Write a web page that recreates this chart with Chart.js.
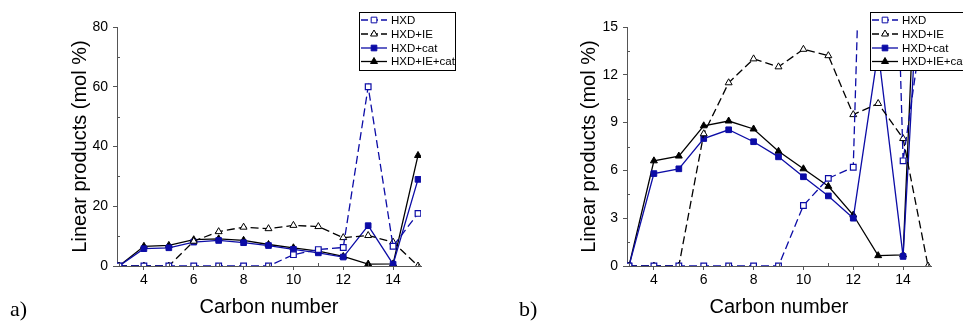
<!DOCTYPE html>
<html><head><meta charset="utf-8">
<script src="https://cdn.jsdelivr.net/npm/chart.js@4.4.1/dist/chart.umd.min.js"></script>
<style>
html,body{margin:0;padding:0;background:#fff;width:963px;height:326px;overflow:hidden;}
#wa{position:absolute;left:0;top:0;width:481px;height:326px;}
#wb{position:absolute;left:480px;top:0;width:483px;height:326px;}
.lab{position:absolute;font-family:"Liberation Serif","Times New Roman",serif;font-size:22px;color:#000;line-height:22px;}
</style></head><body>
<div id="wa"><canvas id="ca" width="481" height="326"></canvas></div>
<div id="wb"><canvas id="cb" width="483" height="326"></canvas></div>
<div class="lab" style="left:10px;top:298px">a)</div>
<div class="lab" style="left:519px;top:298px">b)</div>
<script>
const carbonNumbers = [3,4,5,6,7,8,9,10,11,12,13,14,15];
const hxd      = [0,0,0,0,0,0,0,3.8,5.5,6.2,60,6.6,17.6];
const hxdIE    = [0,0,0,8.3,11.5,13.0,12.5,13.6,13.2,9.5,10.2,8.0,0];
const hxdCat   = [0,5.8,6.1,8.0,8.55,7.8,6.85,5.6,4.4,3.0,13.5,0.6,29];
const hxdIECat = [0,6.6,6.9,8.8,9.1,8.6,7.2,6.1,5.0,3.2,0.65,0.7,37];
const seriesNames = ['HXD','HXD+IE','HXD+cat','HXD+IE+cat'];
const xTickLabels = [4,6,8,10,12,14];
const xMinorTicks = [3,5,7,9,11,13,15];
const yTicksA = [0,20,40,60,80];
const yMinorA = [10,30,50,70];
const yTicksB = [0,3,6,9,12,15];
const yMinorB = [1.5,4.5,7.5,10.5,13.5];

const FONT = '"Liberation Sans", Arial, sans-serif';
const BLUE = '#0c0ca6';
const AXIS = '#555';

function pts(vals){ return carbonNumbers.map((c,i)=>({x:c,y:vals[i]})); }

function makeDatasets(){
  return [
    {label:seriesNames[0], data:pts(hxd), borderColor:BLUE, backgroundColor:'#fff', borderDash:[8,4], pointStyle:'rect', pointRadius:4, pointBorderWidth:1.2},
    {label:seriesNames[1], data:pts(hxdIE), borderColor:'#000', backgroundColor:'#fff', borderDash:[8,4], pointStyle:'triangle', pointRadius:4, pointBorderWidth:1},
    {label:seriesNames[2], data:pts(hxdCat), borderColor:BLUE, backgroundColor:BLUE, borderDash:[], pointStyle:'rect', pointRadius:4, pointBorderWidth:1},
    {label:seriesNames[3], data:pts(hxdIECat), borderColor:'#000', backgroundColor:'#000', borderDash:[], pointStyle:'triangle', pointRadius:4, pointBorderWidth:1}
  ].map(d=>Object.assign(d,{borderWidth:1.3, tension:0, fill:false}));
}

function drawMarker(ctx, style, x, y, r, fill, stroke){
  ctx.save();
  ctx.setLineDash([]);
  ctx.lineWidth = 1;
  ctx.strokeStyle = stroke; ctx.fillStyle = fill;
  ctx.beginPath();
  if(style==='rect'){
    const s = Math.SQRT1_2*r;
    ctx.rect(x-s,y-s,2*s,2*s);
  } else {
    const a = r*Math.cos(Math.PI/6);
    ctx.moveTo(x, y - r);
    ctx.lineTo(x + a, y + r/2);
    ctx.lineTo(x - a, y + r/2);
    ctx.closePath();
  }
  ctx.fill(); ctx.stroke();
  ctx.restore();
}

function extrasPlugin(cfg){
  return {
    id:'extras',
    afterDraw(chart){
      const ctx = chart.ctx, ca = chart.chartArea;
      const xs = chart.scales.x, ys = chart.scales.y;
      // minor ticks (inward)
      ctx.save();
      ctx.strokeStyle = AXIS; ctx.lineWidth = 1;
      ctx.beginPath();
      cfg.yMinor.forEach(v=>{ const py = Math.round(ys.getPixelForValue(v))+0.5; ctx.moveTo(ca.left, py); ctx.lineTo(ca.left+3, py); });
      xMinorTicks.forEach(v=>{ const px = Math.round(xs.getPixelForValue(v))+0.5; ctx.moveTo(px, ca.bottom); ctx.lineTo(px, ca.bottom-3); });
      ctx.stroke();
      ctx.restore();
      // legend box
      const lx = cfg.legendX, top = 12, w = cfg.legendW, h = 58;
      ctx.save();
      ctx.fillStyle = '#fff';
      ctx.fillRect(lx, top, w, h);
      ctx.strokeStyle = '#000'; ctx.lineWidth = 1;
      ctx.strokeRect(lx+0.5, top+0.5, w, h);
      const rows = [20, 34, 48, 61.5];
      chart.data.datasets.forEach((ds,i)=>{
        const y = rows[i];
        ctx.save();
        ctx.strokeStyle = ds.borderColor; ctx.lineWidth = 1.3;
        ctx.setLineDash(ds.borderDash && ds.borderDash.length ? [7,3] : []);
        ctx.beginPath(); ctx.moveTo(lx+2, y); ctx.lineTo(lx+28, y); ctx.stroke();
        ctx.restore();
        drawMarker(ctx, ds.pointStyle, lx+15, y, 4, ds.backgroundColor, ds.borderColor);
        ctx.fillStyle = '#000';
        ctx.font = '11.5px ' + FONT;
        ctx.textBaseline = 'middle';
        ctx.textAlign = 'left';
        ctx.fillText(ds.label, lx+32, y+0.5);
      });
      ctx.restore();
    }
  };
}

function makeChart(id, cfg){
  return new Chart(document.getElementById(id), {
    type:'line',
    data:{datasets:makeDatasets()},
    options:{
      responsive:false, animation:false, devicePixelRatio:1,
      layout:{padding:{top:27, right:cfg.padRight, left:0, bottom:0}},
      plugins:{legend:{display:false}, tooltip:{enabled:false}},
      scales:{
        x:{type:'linear', min:2.92, max:15.12,
          afterBuildTicks:s=>{ s.ticks = xTickLabels.map(v=>({value:v})); },
          afterFit:s=>{ s.height = 60; },
          ticks:{font:{family:FONT,size:14}, color:'#000', padding:2, maxRotation:0, autoSkip:false},
          grid:{drawOnChartArea:false, drawTicks:true, tickLength:4, color:AXIS},
          border:{display:true, color:AXIS, width:1},
          title:{display:true, text:'Carbon number', color:'#000', font:{family:FONT,size:20}, padding:{top:0,bottom:7}}
        },
        y:{type:'linear', min:0, max:cfg.yMax,
          afterBuildTicks:s=>{ s.ticks = cfg.yTicks.map(v=>({value:v})); },
          afterFit:s=>{ s.width = cfg.yWidth; },
          ticks:{font:{family:FONT,size:14}, color:'#000', padding:5, autoSkip:false},
          grid:{drawOnChartArea:false, drawTicks:true, tickLength:4, color:AXIS},
          border:{display:true, color:AXIS, width:1},
          title:{display:true, text:'Linear products (mol %)', color:'#000', font:{family:FONT,size:20}, padding:{top:cfg.titlePad,bottom:0}}
        }
      }
    },
    plugins:[extrasPlugin(cfg)]
  });
}

makeChart('ca', {yMax:80, yTicks:yTicksA, yMinor:yMinorA, yWidth:117, padRight:60, titlePad:68, legendX:359, legendW:96});
makeChart('cb', {yMax:15, yTicks:yTicksB, yMinor:yMinorB, yWidth:147, padRight:32, titlePad:97, legendX:390, legendW:110});
</script>
</body></html>
